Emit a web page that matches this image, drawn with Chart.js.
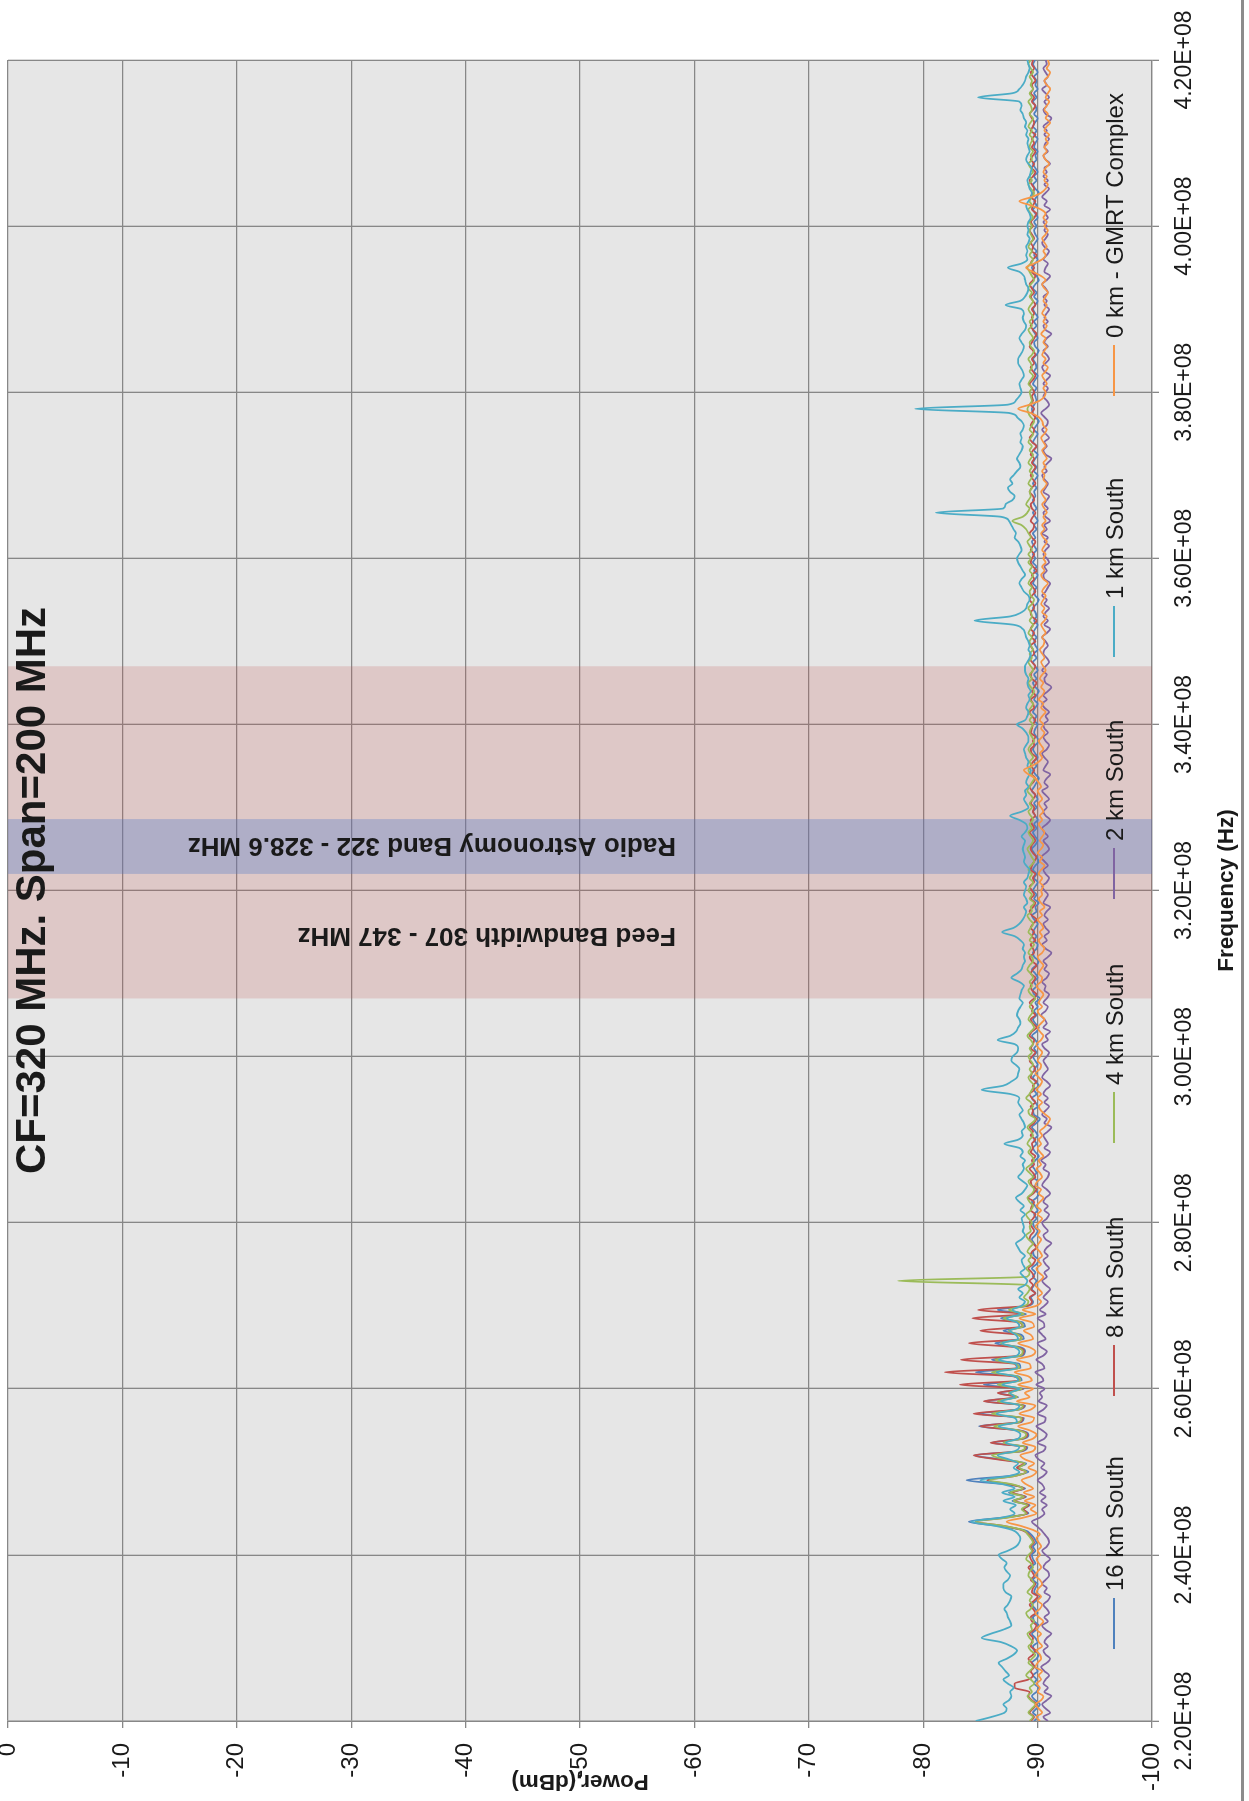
<!DOCTYPE html>
<html>
<head>
<meta charset="utf-8">
<title>CF=320 MHz. Span=200 MHz</title>
<script src="https://cdn.jsdelivr.net/npm/chart.js@4.4.1/dist/chart.umd.min.js"></script>
<style>
  html, body { margin: 0; padding: 0; background: #ffffff; width: 1249px; height: 1801px; overflow: hidden; }
  /* the chart is laid out landscape and turned a quarter turn counter-clockwise onto the portrait page */
  #wrap { position: absolute; left: 0; top: 0; width: 1801px; height: 1249px;
          transform-origin: 0 0; transform: translateY(1801px) rotate(-90deg); }
  canvas { display: block; }
</style>
</head>
<body>
<div id="wrap"><canvas id="spectrum" width="1801" height="1249"></canvas></div>
<script>
// Sweep settings of the analyser: 220 MHz to 420 MHz, 401 points (0.5 MHz per bin)
const SWEEP_START_MHZ = 220;
const SWEEP_STOP_MHZ = 420;
const SWEEP_POINTS = 401;

const seriesNames = ['16 km South', '8 km South', '4 km South', '2 km South', '1 km South', '0 km - GMRT Complex'];

// Power readings in dBm, one line per 10 MHz (20 bins), last value is 420 MHz
const km16South = [
  -89.7,-90.0,-89.6,-89.9,-90.2,-89.8,-89.5,-89.9,-90.1,-89.7,-89.9,-89.6,-90.0,-89.8,-89.5,-89.9,-90.1,-89.7,-89.6,-90.0,
  -89.8,-89.5,-89.9,-90.1,-89.7,-89.6,-90.0,-89.8,-89.5,-89.9,-90.2,-89.7,-89.8,-90.0,-89.6,-89.9,-89.7,-89.4,-89.8,-89.6,
  -89.5,-89.8,-89.6,-89.9,-89.7,-89.4,-88.8,-86.5,-84.0,-87.0,-89.2,-88.7,-89.3,-87.8,-89.0,-87.5,-88.9,-87.2,-83.8,-87.5,
  -89.2,-88.3,-89.0,-86.8,-84.5,-88.7,-89.1,-86.0,-88.8,-89.2,-88.4,-84.9,-88.6,-88.8,-84.8,-88.4,-88.9,-85.4,-88.3,-86.6,
  -88.8,-85.3,-88.6,-88.3,-84.6,-88.5,-88.4,-86.0,-88.7,-88.9,-88.5,-86.3,-88.8,-88.6,-87.0,-88.9,-88.7,-86.8,-89.0,-86.5,
  -89.2,-89.6,-89.4,-89.8,-89.5,-89.7,-89.9,-89.6,-89.8,-89.5,-89.9,-90.1,-89.7,-89.6,-89.9,-89.7,-89.5,-89.8,-90.0,-89.7,
  -89.6,-89.9,-89.7,-90.0,-89.8,-89.5,-89.9,-90.1,-89.7,-89.8,-90.0,-89.6,-89.9,-89.7,-89.5,-89.8,-90.1,-89.8,-89.6,-89.9,
  -89.7,-90.0,-89.8,-89.5,-89.9,-90.2,-89.7,-89.6,-90.0,-89.8,-89.5,-89.9,-89.7,-90.1,-89.8,-89.6,-89.9,-89.7,-90.0,-89.8,
  -89.6,-89.9,-89.7,-90.0,-89.8,-89.5,-89.9,-90.1,-89.8,-89.6,-89.9,-89.7,-90.0,-89.8,-90.2,-89.7,-89.6,-89.9,-89.7,-90.0,
  -89.8,-89.5,-89.9,-90.1,-89.7,-89.6,-89.9,-90.0,-89.7,-89.9,-89.6,-89.8,-90.0,-89.7,-89.5,-89.9,-89.8,-90.1,-89.7,-89.9,
  -89.6,-89.8,-90.0,-89.7,-89.9,-89.6,-89.8,-90.1,-89.9,-89.7,-89.5,-89.8,-90.0,-89.8,-89.6,-89.9,-89.7,-90.0,-89.8,-89.6,
  -89.9,-89.7,-90.0,-89.8,-89.5,-89.7,-89.9,-90.1,-89.8,-89.6,-89.9,-89.7,-90.0,-89.8,-89.6,-89.8,-90.1,-89.9,-89.7,-89.8,
  -90.0,-89.7,-89.9,-89.6,-89.8,-90.0,-89.7,-89.9,-90.1,-89.8,-89.6,-89.9,-89.7,-90.0,-89.8,-89.6,-89.9,-89.7,-90.0,-89.8,
  -89.7,-89.9,-89.6,-89.8,-90.0,-89.7,-89.9,-89.8,-89.6,-89.9,-90.1,-89.8,-89.7,-89.9,-89.6,-89.8,-90.0,-89.7,-89.9,-89.6,
  -89.8,-89.6,-89.9,-89.7,-89.5,-89.8,-89.6,-89.9,-89.7,-90.0,-89.8,-89.6,-89.9,-89.7,-89.6,-89.8,-89.7,-89.9,-89.6,-89.8,
  -90.0,-89.7,-89.9,-89.6,-89.8,-90.0,-89.7,-89.9,-89.6,-89.8,-90.0,-89.7,-89.9,-90.1,-89.8,-89.6,-89.5,-89.7,-89.9,-89.8,
  -89.7,-89.9,-89.6,-89.8,-90.0,-89.7,-89.9,-89.8,-89.6,-89.9,-90.1,-89.8,-89.7,-90.0,-89.8,-89.6,-89.9,-89.7,-90.0,-89.8,
  -89.6,-89.8,-90.0,-89.7,-89.9,-89.6,-89.8,-90.1,-89.9,-89.7,-89.5,-89.8,-90.0,-89.7,-89.9,-89.6,-89.8,-90.0,-89.8,-89.7,
  -89.9,-89.7,-90.0,-89.8,-89.6,-89.9,-89.7,-89.9,-90.1,-89.8,-89.6,-89.9,-89.7,-90.0,-89.8,-89.6,-89.9,-89.8,-90.0,-89.7,
  -89.8,-90.0,-89.7,-89.9,-89.6,-89.8,-90.0,-89.7,-89.9,-89.8,-89.6,-89.9,-89.7,-90.0,-89.8,-89.9,-89.7,-90.0,-89.8,-89.6,
  -89.8
];

const km8South = [
  -89.4,-89.7,-89.3,-89.6,-89.9,-89.5,-89.2,-89.3,-88.0,-88.0,-89.2,-89.6,-89.4,-89.7,-89.5,-89.2,-89.6,-89.8,-89.4,-89.5,
  -89.6,-89.3,-89.7,-89.9,-89.5,-89.4,-89.8,-89.6,-89.3,-89.7,-90.0,-89.5,-89.6,-89.8,-89.4,-89.7,-89.5,-89.2,-89.6,-89.4,
  -89.3,-89.6,-89.4,-89.7,-89.5,-89.2,-88.6,-87.0,-84.6,-87.3,-89.1,-88.8,-89.2,-88.0,-88.9,-87.8,-88.8,-87.6,-85.6,-88.0,
  -89.0,-88.2,-88.8,-86.5,-84.4,-88.6,-89.0,-85.9,-88.7,-89.1,-88.3,-85.0,-88.5,-88.7,-84.4,-88.2,-88.8,-85.3,-88.2,-86.5,
  -88.7,-83.2,-88.4,-87.9,-81.9,-88.2,-88.0,-83.3,-88.5,-88.8,-88.1,-84.0,-88.6,-88.3,-85.0,-88.7,-88.4,-84.3,-88.8,-84.8,
  -89.1,-89.5,-89.3,-89.8,-89.4,-89.6,-89.3,-89.7,-89.5,-89.2,-89.6,-89.8,-89.4,-89.5,-89.9,-89.6,-89.3,-89.4,-89.7,-89.5,
  -89.3,-89.6,-89.8,-89.4,-89.5,-89.7,-89.2,-89.6,-89.9,-89.5,-89.4,-89.8,-89.6,-89.3,-89.7,-89.5,-89.8,-89.4,-89.6,-89.5,
  -89.8,-89.4,-89.6,-89.3,-89.7,-89.9,-89.5,-89.6,-89.4,-89.8,-89.5,-89.3,-89.7,-89.6,-89.9,-89.4,-89.5,-89.8,-89.6,-89.3,
  -89.5,-89.8,-89.4,-89.6,-89.7,-89.3,-89.5,-89.9,-89.6,-89.4,-89.8,-89.5,-89.6,-89.3,-89.7,-89.9,-89.5,-89.4,-89.6,-89.8,
  -89.4,-89.6,-89.9,-89.5,-89.3,-89.7,-89.6,-89.4,-89.8,-89.5,-89.7,-89.4,-89.6,-89.9,-89.5,-89.3,-89.6,-89.8,-89.4,-89.7,
  -89.5,-89.3,-89.7,-89.6,-89.8,-89.4,-89.5,-89.7,-89.9,-89.6,-89.4,-89.5,-89.8,-89.6,-89.3,-89.7,-89.5,-89.4,-89.8,-89.6,
  -89.7,-89.4,-89.6,-89.8,-89.5,-89.3,-89.6,-89.8,-89.5,-89.7,-89.4,-89.6,-89.9,-89.5,-89.4,-89.7,-89.6,-89.8,-89.4,-89.5,
  -89.6,-89.8,-89.5,-89.3,-89.7,-89.6,-89.4,-89.8,-89.5,-89.7,-89.9,-89.5,-89.4,-89.6,-89.8,-89.5,-89.3,-89.7,-89.6,-89.4,
  -89.8,-89.5,-89.7,-89.4,-89.6,-89.9,-89.5,-89.4,-89.7,-89.6,-89.3,-89.5,-89.8,-89.6,-89.4,-89.7,-89.5,-89.9,-89.6,-89.4,
  -89.5,-89.7,-89.4,-89.6,-89.8,-89.5,-89.3,-89.6,-89.7,-89.4,-89.6,-89.8,-89.5,-89.4,-89.7,-89.6,-89.3,-89.5,-89.8,-89.6,
  -89.4,-89.6,-89.8,-89.5,-89.7,-89.4,-89.6,-89.9,-89.5,-89.3,-89.6,-89.7,-89.4,-89.6,-89.8,-89.5,-89.7,-89.4,-89.6,-89.5,
  -89.7,-89.5,-89.3,-89.6,-89.8,-89.6,-89.4,-89.7,-89.5,-89.8,-89.6,-89.3,-89.5,-89.7,-89.9,-89.6,-89.4,-89.6,-89.5,-89.7,
  -89.5,-89.8,-89.6,-89.4,-89.7,-89.5,-89.3,-89.6,-89.8,-89.5,-89.7,-89.4,-89.6,-89.9,-89.5,-89.6,-89.4,-89.7,-89.5,-89.3,
  -89.6,-89.4,-89.7,-89.9,-89.5,-89.6,-89.8,-89.4,-89.6,-89.7,-89.5,-89.3,-89.6,-89.8,-89.5,-89.7,-89.4,-89.6,-89.8,-89.5,
  -89.7,-89.5,-89.8,-89.4,-89.6,-89.7,-89.5,-89.3,-89.6,-89.8,-89.5,-89.7,-89.4,-89.6,-89.5,-89.8,-89.6,-89.4,-89.7,-89.5,
  -89.6
];

const km4South = [
  -89.3,-89.6,-89.2,-89.5,-89.8,-89.4,-89.1,-89.5,-89.3,-89.7,-89.4,-89.0,-89.3,-89.6,-89.2,-89.5,-89.8,-89.4,-89.2,-89.6,
  -89.3,-89.1,-89.5,-89.4,-89.7,-89.2,-89.0,-89.4,-89.6,-89.3,-89.5,-89.1,-89.4,-89.7,-89.5,-89.2,-89.3,-89.6,-89.4,-89.0,
  -89.2,-89.5,-89.3,-89.6,-89.4,-89.1,-88.7,-87.0,-84.6,-87.4,-89.0,-88.6,-89.1,-87.9,-88.8,-87.6,-88.7,-87.8,-85.8,-88.0,
  -89.0,-88.4,-88.9,-87.2,-86.0,-88.5,-88.9,-87.0,-88.6,-89.0,-88.3,-86.2,-88.4,-88.6,-86.0,-88.3,-88.7,-86.5,-88.2,-87.5,
  -88.6,-86.5,-88.5,-88.2,-86.0,-88.4,-88.1,-86.3,-88.5,-88.7,-88.2,-86.8,-88.6,-88.3,-87.5,-88.7,-88.5,-87.0,-88.8,-87.5,
  -88.9,-89.2,-88.8,-89.1,-89.3,-89.0,-77.8,-89.1,-89.3,-89.0,-89.4,-89.2,-89.5,-89.1,-89.3,-89.6,-89.2,-89.0,-89.4,-89.3,
  -89.5,-89.2,-89.0,-89.4,-89.6,-89.3,-89.1,-89.5,-89.7,-89.4,-89.2,-89.6,-89.3,-89.0,-89.4,-89.7,-89.5,-89.2,-89.4,-89.1,
  -89.3,-89.6,-89.4,-89.1,-89.5,-89.8,-89.3,-89.2,-89.6,-89.4,-89.0,-89.3,-89.5,-89.7,-89.4,-89.2,-89.5,-89.3,-89.6,-89.4,
  -89.2,-89.5,-89.3,-89.6,-89.4,-89.1,-89.4,-89.7,-89.5,-89.2,-89.4,-89.6,-89.3,-89.5,-89.8,-89.4,-89.2,-89.5,-89.3,-89.6,
  -89.4,-89.1,-89.3,-89.6,-89.5,-89.2,-89.4,-89.7,-89.3,-89.5,-89.2,-89.4,-89.6,-89.3,-89.1,-89.5,-89.4,-89.7,-89.3,-89.5,
  -89.2,-89.4,-89.6,-89.3,-89.5,-89.2,-89.4,-89.7,-89.5,-89.3,-89.1,-89.4,-89.6,-89.4,-89.2,-89.5,-89.3,-89.6,-89.4,-89.2,
  -89.5,-89.3,-89.6,-89.4,-89.1,-89.3,-89.5,-89.7,-89.4,-89.2,-89.5,-89.3,-89.6,-89.4,-89.2,-89.4,-89.7,-89.5,-89.3,-89.4,
  -89.6,-89.3,-89.5,-89.2,-89.4,-89.6,-89.3,-89.5,-89.7,-89.4,-89.2,-89.5,-89.3,-89.6,-89.4,-89.2,-89.5,-89.3,-89.6,-89.4,
  -89.3,-89.5,-89.2,-89.4,-89.6,-89.3,-89.5,-89.4,-89.2,-89.5,-89.7,-89.4,-89.3,-89.5,-89.2,-89.4,-89.6,-89.3,-89.5,-89.2,
  -89.4,-89.2,-89.5,-89.3,-89.1,-89.4,-89.2,-89.0,-88.6,-87.8,-88.7,-89.1,-89.3,-89.0,-89.2,-89.4,-89.3,-89.5,-89.2,-89.4,
  -89.6,-89.3,-89.5,-89.2,-89.4,-89.6,-89.3,-89.5,-89.2,-89.4,-89.6,-89.3,-89.5,-89.7,-89.4,-89.2,-89.1,-89.3,-89.5,-89.4,
  -89.3,-89.5,-89.2,-89.4,-89.6,-89.3,-89.5,-89.4,-89.2,-89.5,-89.7,-89.4,-89.3,-89.6,-89.4,-89.2,-89.5,-89.3,-89.6,-89.4,
  -89.2,-89.4,-89.6,-89.3,-89.5,-89.2,-89.4,-89.7,-89.5,-89.3,-89.1,-89.4,-89.6,-89.3,-89.5,-89.2,-89.4,-89.6,-89.4,-89.3,
  -89.5,-89.3,-89.6,-89.4,-89.2,-89.5,-89.3,-89.5,-89.7,-89.4,-89.2,-89.5,-89.3,-89.6,-89.4,-89.2,-89.5,-89.4,-89.6,-89.3,
  -89.4,-89.6,-89.3,-89.5,-89.2,-89.4,-89.6,-89.3,-89.5,-89.4,-89.2,-89.5,-89.3,-89.6,-89.4,-89.5,-89.3,-89.6,-89.4,-89.2,
  -89.4
];

const km2South = [
  -90.9,-90.5,-91.1,-90.7,-90.4,-90.8,-91.2,-90.6,-90.9,-90.5,-90.7,-91.0,-90.6,-90.3,-90.8,-91.1,-90.7,-90.5,-90.9,-90.6,
  -90.8,-91.2,-90.7,-90.4,-90.9,-90.6,-91.0,-90.8,-90.5,-90.9,-91.1,-90.6,-90.8,-90.4,-90.7,-91.0,-90.9,-90.5,-90.7,-91.1,
  -90.7,-90.4,-90.8,-91.0,-90.9,-90.6,-90.3,-89.9,-89.5,-90.2,-90.6,-90.4,-90.8,-90.3,-90.7,-90.2,-90.6,-90.4,-90.0,-90.5,
  -90.8,-90.3,-90.6,-90.1,-89.8,-90.5,-90.7,-90.0,-90.6,-90.8,-90.4,-89.9,-90.6,-90.7,-90.0,-90.5,-90.8,-90.1,-90.4,-90.2,
  -90.6,-89.9,-90.5,-90.3,-89.8,-90.6,-90.4,-89.9,-90.5,-90.8,-90.3,-90.0,-90.7,-90.4,-90.1,-90.6,-90.5,-90.0,-90.7,-90.2,
  -90.6,-90.9,-90.5,-90.8,-91.1,-90.7,-90.4,-90.8,-90.6,-91.0,-90.7,-90.5,-90.9,-90.6,-90.8,-91.2,-90.7,-90.5,-90.9,-90.6,
  -90.4,-90.8,-91.0,-90.6,-90.9,-90.5,-90.7,-91.1,-90.8,-90.4,-90.6,-90.9,-91.0,-90.5,-90.7,-90.3,-90.8,-91.1,-90.6,-90.9,
  -90.7,-90.5,-90.9,-91.2,-90.6,-90.8,-90.4,-90.7,-91.0,-90.6,-90.9,-90.5,-90.7,-91.1,-90.8,-90.4,-90.6,-90.9,-90.7,-90.5,
  -90.8,-91.0,-90.6,-90.4,-90.9,-90.7,-91.1,-90.5,-90.8,-90.6,-90.3,-90.7,-90.9,-90.5,-90.8,-91.0,-90.6,-90.7,-90.4,-90.8,
  -91.0,-90.6,-90.8,-90.5,-90.9,-91.2,-90.7,-90.4,-90.8,-90.6,-91.0,-90.7,-90.5,-90.9,-90.6,-90.8,-91.1,-90.5,-90.7,-90.9,
  -90.6,-90.4,-90.8,-91.0,-90.7,-90.5,-90.9,-90.6,-90.3,-90.7,-91.0,-90.8,-90.5,-90.9,-90.6,-90.4,-90.8,-91.1,-90.7,-90.5,
  -90.8,-90.6,-91.0,-90.7,-90.4,-90.9,-90.6,-90.8,-91.1,-90.5,-90.7,-90.9,-90.6,-90.4,-90.8,-91.0,-90.7,-90.5,-90.9,-90.6,
  -90.5,-90.9,-90.7,-91.0,-90.6,-90.4,-90.8,-90.5,-90.9,-91.2,-90.7,-90.6,-90.8,-90.4,-90.7,-91.0,-90.8,-90.5,-90.6,-90.9,
  -90.7,-90.4,-90.8,-91.1,-90.6,-90.9,-90.5,-90.7,-91.0,-90.6,-90.8,-90.4,-90.7,-90.9,-91.1,-90.6,-90.5,-90.8,-90.6,-91.0,
  -90.8,-90.5,-90.7,-91.0,-90.6,-90.9,-90.4,-90.8,-90.6,-91.1,-90.7,-90.5,-90.9,-90.6,-90.8,-91.0,-90.5,-90.7,-90.9,-90.6,
  -90.4,-90.8,-90.6,-90.9,-91.2,-90.7,-90.5,-90.8,-90.6,-91.0,-90.7,-90.4,-90.8,-90.9,-90.6,-90.3,-90.7,-91.0,-90.8,-90.5,
  -90.7,-90.9,-90.5,-90.8,-91.1,-90.6,-90.4,-90.7,-91.0,-90.8,-90.5,-90.9,-90.6,-90.8,-91.2,-90.7,-90.5,-90.9,-90.6,-90.8,
  -91.0,-90.6,-90.8,-90.5,-90.9,-90.7,-90.4,-90.8,-91.1,-90.6,-90.7,-90.9,-90.5,-90.8,-91.0,-90.6,-90.4,-90.7,-90.9,-90.6,
  -90.8,-90.5,-90.9,-90.7,-91.1,-90.6,-90.8,-90.4,-90.7,-91.0,-90.6,-90.9,-90.5,-90.8,-90.6,-91.1,-90.7,-90.5,-90.9,-90.6,
  -90.7,-91.0,-90.6,-90.8,-90.5,-90.9,-91.2,-90.7,-90.5,-90.8,-90.6,-91.0,-90.7,-90.4,-90.8,-90.6,-90.9,-90.7,-90.5,-90.8,
  -90.7
];

const km1South = [
  -84.6,-86.0,-87.1,-87.3,-87.0,-87.5,-87.7,-87.6,-87.9,-87.4,-87.0,-87.5,-87.2,-86.9,-86.6,-87.3,-87.9,-88.2,-87.7,-86.8,
  -85.1,-85.9,-87.0,-87.7,-87.6,-87.4,-87.3,-87.1,-87.4,-87.6,-87.7,-87.2,-87.0,-87.0,-87.4,-87.6,-87.3,-87.1,-87.3,-86.9,
  -86.6,-87.4,-88.1,-88.4,-88.5,-88.3,-87.8,-86.3,-84.2,-86.9,-88.0,-87.6,-88.1,-87.0,-88.0,-86.9,-88.0,-87.0,-85.0,-87.5,
  -88.4,-87.9,-88.3,-87.5,-86.5,-88.0,-88.4,-87.2,-88.3,-88.5,-88.0,-86.6,-88.2,-88.0,-86.4,-88.1,-88.4,-86.8,-88.0,-87.6,
  -88.4,-86.9,-88.3,-88.0,-86.4,-88.2,-88.1,-86.6,-88.2,-88.4,-88.0,-86.9,-88.3,-88.1,-87.6,-88.4,-88.2,-87.3,-88.5,-87.8,
  -88.6,-88.9,-88.4,-88.7,-88.3,-88.9,-89.1,-88.8,-88.5,-88.9,-88.7,-88.6,-88.9,-88.5,-88.3,-88.1,-88.6,-88.9,-88.7,-88.8,
  -88.7,-88.6,-88.9,-88.5,-88.8,-88.4,-88.1,-88.6,-88.9,-89.1,-88.7,-88.3,-88.6,-88.8,-88.7,-88.9,-88.5,-88.7,-88.4,-87.1,
  -88.3,-88.7,-88.6,-88.9,-88.8,-88.6,-88.4,-88.7,-88.5,-88.3,-88.4,-87.6,-85.1,-87.0,-87.7,-88.2,-88.3,-88.4,-88.1,-87.7,
  -87.8,-88.2,-88.3,-88.0,-86.5,-87.6,-88.1,-88.3,-88.5,-88.4,-88.2,-88.3,-88.5,-88.7,-88.4,-88.5,-88.6,-88.8,-88.4,-87.7,
  -88.2,-88.6,-88.7,-88.9,-88.8,-88.9,-88.7,-88.8,-88.5,-88.0,-86.9,-87.9,-88.4,-88.7,-88.9,-89.0,-88.8,-89.1,-89.0,-88.8,
  -88.9,-89.0,-88.8,-89.1,-89.2,-89.3,-89.0,-88.8,-88.9,-88.8,-88.7,-88.8,-88.9,-88.6,-88.9,-89.1,-89.0,-88.4,-87.6,-88.6,
  -89.2,-89.0,-88.8,-89.0,-88.9,-89.2,-89.0,-89.1,-89.3,-89.4,-89.1,-89.2,-89.0,-88.9,-88.8,-89.0,-89.2,-89.2,-89.0,-88.7,
  -88.2,-88.9,-89.1,-89.2,-89.0,-89.1,-89.3,-89.2,-89.4,-89.2,-89.1,-89.2,-89.0,-88.9,-88.9,-89.1,-89.3,-89.4,-89.2,-89.3,
  -89.2,-89.0,-88.9,-88.7,-87.9,-84.5,-87.6,-88.6,-89.0,-89.1,-89.3,-89.2,-88.8,-88.6,-88.4,-88.6,-88.9,-88.7,-88.5,-88.3,
  -88.2,-88.4,-88.6,-88.5,-88.3,-88.0,-88.1,-87.9,-87.7,-87.5,-86.8,-81.1,-87.0,-87.2,-87.8,-88.0,-87.6,-87.4,-87.8,-87.6,
  -87.9,-88.2,-88.5,-88.4,-88.2,-88.4,-88.6,-88.7,-88.5,-88.6,-88.5,-88.7,-88.8,-88.6,-88.2,-87.5,-79.3,-87.4,-88.1,-88.4,
  -88.6,-88.5,-88.4,-88.6,-88.8,-88.7,-88.5,-88.3,-88.3,-88.5,-88.7,-88.8,-88.6,-88.4,-88.6,-88.9,-89.0,-88.8,-88.7,-88.8,
  -88.6,-87.2,-88.5,-88.9,-89.1,-89.2,-89.0,-88.9,-88.8,-88.4,-87.4,-88.6,-89.1,-89.0,-89.1,-89.0,-89.2,-89.3,-89.1,-89.2,
  -89.1,-89.2,-89.4,-89.3,-89.1,-89.0,-89.2,-89.4,-89.5,-89.3,-89.2,-89.1,-89.3,-89.4,-89.5,-89.2,-89.0,-89.1,-89.3,-89.2,
  -89.1,-89.2,-89.0,-89.1,-88.9,-89.0,-88.8,-88.7,-88.5,-88.6,-88.4,-84.8,-87.8,-88.4,-88.7,-88.9,-89.0,-89.2,-89.3,-89.2,
  -89.1
];

const km0GMRT = [
  -90.2,-89.9,-90.4,-90.1,-89.8,-90.3,-90.5,-90.0,-90.2,-89.9,-90.3,-90.1,-90.4,-89.8,-90.0,-90.3,-90.2,-89.9,-90.4,-90.1,
  -90.0,-90.3,-89.9,-90.2,-90.5,-90.1,-89.8,-90.2,-90.4,-90.0,-90.3,-89.9,-90.1,-90.4,-90.2,-89.8,-90.0,-90.3,-90.1,-89.9,
  -90.2,-90.0,-90.3,-90.1,-89.9,-90.2,-89.6,-88.5,-87.3,-88.8,-89.9,-89.4,-89.8,-88.9,-89.7,-88.8,-89.6,-89.0,-88.6,-89.5,
  -89.9,-89.2,-89.7,-88.9,-88.5,-89.6,-89.8,-88.7,-89.6,-89.9,-89.3,-88.3,-89.5,-89.7,-88.4,-89.4,-89.8,-88.2,-89.3,-88.9,
  -89.6,-88.3,-89.5,-89.2,-88.0,-89.4,-89.3,-88.2,-89.5,-89.8,-89.3,-88.3,-89.6,-89.4,-88.8,-89.7,-89.5,-88.4,-89.8,-88.7,
  -89.9,-90.3,-90.0,-90.4,-90.1,-89.8,-90.2,-90.5,-90.1,-89.9,-90.3,-90.0,-90.4,-90.2,-89.9,-90.1,-90.3,-90.0,-90.2,-89.8,
  -90.1,-90.4,-90.0,-90.3,-89.9,-90.2,-90.5,-90.1,-90.3,-89.8,-90.0,-90.4,-90.2,-89.9,-90.3,-90.1,-90.5,-90.2,-90.0,-90.3,
  -90.1,-90.4,-90.2,-90.6,-90.9,-91.1,-90.7,-90.3,-90.1,-90.4,-90.0,-90.3,-89.9,-90.2,-90.4,-90.1,-89.8,-90.2,-90.3,-90.0,
  -90.2,-90.4,-90.1,-89.9,-90.3,-90.5,-90.2,-90.0,-90.3,-90.6,-90.2,-90.0,-90.4,-90.1,-90.3,-90.5,-90.2,-89.9,-90.3,-90.4,
  -90.1,-90.3,-90.5,-90.2,-90.0,-90.4,-90.6,-90.3,-90.1,-90.4,-90.2,-90.5,-90.3,-90.0,-90.4,-90.2,-90.6,-90.3,-90.1,-90.4,
  -90.3,-90.5,-90.2,-90.4,-90.1,-90.3,-90.6,-90.2,-90.4,-90.0,-90.3,-90.5,-90.2,-90.4,-90.6,-90.3,-90.1,-90.4,-90.2,-90.5,
  -90.3,-90.1,-90.4,-90.2,-90.0,-90.3,-90.1,-89.8,-89.2,-88.8,-89.5,-90.1,-90.4,-90.2,-90.5,-90.3,-90.1,-90.4,-90.6,-90.3,
  -90.5,-90.2,-90.4,-90.7,-90.3,-90.5,-90.1,-90.4,-90.6,-90.3,-90.5,-90.2,-90.4,-90.7,-90.5,-90.3,-90.6,-90.4,-90.2,-90.5,
  -90.6,-90.4,-90.7,-90.5,-90.3,-90.6,-90.8,-90.4,-90.6,-90.3,-90.5,-90.7,-90.4,-90.6,-90.9,-90.5,-90.3,-90.6,-90.4,-90.7,
  -90.5,-90.7,-90.4,-90.6,-90.8,-90.5,-90.3,-90.6,-90.4,-90.7,-90.5,-90.8,-90.6,-90.4,-90.7,-90.5,-90.3,-90.6,-90.8,-90.5,
  -90.6,-90.4,-90.7,-90.5,-90.8,-90.6,-90.4,-90.7,-90.5,-90.3,-90.6,-90.8,-90.5,-90.4,-90.1,-89.4,-88.3,-89.3,-90.2,-90.6,
  -90.7,-90.5,-90.8,-90.6,-90.4,-90.7,-90.9,-90.5,-90.7,-90.4,-90.6,-90.8,-90.5,-90.7,-90.3,-90.6,-90.8,-90.5,-90.7,-90.4,
  -90.6,-90.8,-90.5,-90.7,-90.9,-90.6,-90.4,-90.7,-90.3,-89.6,-89.0,-89.7,-90.4,-90.7,-90.5,-90.8,-90.6,-90.4,-90.7,-90.9,
  -90.6,-90.8,-90.5,-90.7,-90.3,-89.4,-88.4,-89.5,-90.3,-90.7,-90.9,-90.6,-90.8,-90.5,-90.7,-91.0,-90.7,-90.5,-90.8,-90.6,
  -90.9,-90.7,-91.0,-90.6,-90.8,-91.1,-90.7,-90.9,-90.6,-90.8,-91.0,-90.7,-90.9,-91.1,-90.8,-90.6,-90.9,-91.1,-90.8,-91.0,
  -90.9
];

const seriesValues = [km16South, km8South, km4South, km2South, km1South, km0GMRT];

// Axis ticks
const freqTicksHz = [2.2e8, 2.4e8, 2.6e8, 2.8e8, 3.0e8, 3.2e8, 3.4e8, 3.6e8, 3.8e8, 4.0e8, 4.2e8];
const freqTickLabels = ['2.20E+08', '2.40E+08', '2.60E+08', '2.80E+08', '3.00E+08', '3.20E+08',
                        '3.40E+08', '3.60E+08', '3.80E+08', '4.00E+08', '4.20E+08'];
const powerTicks = [-100, -90, -80, -70, -60, -50, -40, -30, -20, -10, 0];
const powerTickLabels = ['-100', '-90', '-80', '-70', '-60', '-50', '-40', '-30', '-20', '-10', '0'];

// Marked bands (MHz)
const feedBandMHz = [307, 347];
const raBandMHz = [322, 328.6];
const feedBandText = 'Feed Bandwidth 307 - 347 MHz';
const raBandText = 'Radio Astronomy Band 322 - 328.6 MHz';
const chartTitle = 'CF=320 MHz. Span=200 MHz';
const xAxisTitle = 'Frequency (Hz)';
const yAxisTitle = 'Power,(dBm)';

// ---- styling ----
const seriesColors = ['#4F81BD', '#C0504D', '#9BBB59', '#8064A2', '#4BACC6', '#F79646'];
const FONT = "'Liberation Sans', Arial, sans-serif";
const TEXT = '#1a1a1a';
const GRID = '#878787';
const legendStartX = [152, 405, 658, 902, 1144, 1405];

const freqHz = Array.from({ length: SWEEP_POINTS },
  (_, i) => (SWEEP_START_MHZ + i * (SWEEP_STOP_MHZ - SWEEP_START_MHZ) / (SWEEP_POINTS - 1)) * 1e6);

const datasets = seriesNames.map((name, k) => ({
  label: name,
  data: freqHz.map((f, i) => ({ x: f, y: seriesValues[k][i] })),
  borderColor: seriesColors[k],
  backgroundColor: seriesColors[k],
  borderWidth: 1.8,
  pointRadius: 0,
  cubicInterpolationMode: 'monotone',
  fill: false,
  order: seriesNames.length - k   // later series are painted on top
}));

const decorations = {
  id: 'decorations',
  beforeDraw(chart) {
    const { ctx, chartArea: a } = chart;
    ctx.save();
    ctx.fillStyle = '#ffffff';
    ctx.fillRect(0, 0, chart.width, chart.height);
    ctx.fillStyle = '#e6e6e6';
    ctx.fillRect(a.left, a.top, a.right - a.left, a.bottom - a.top);
    ctx.restore();
  },
  beforeDatasetsDraw(chart) {
    const { ctx, chartArea: a, scales: { x } } = chart;
    const band = (range, color) => {
      const x0 = x.getPixelForValue(range[0] * 1e6);
      const x1 = x.getPixelForValue(range[1] * 1e6);
      ctx.fillStyle = color;
      ctx.fillRect(x0, a.top, x1 - x0, a.bottom - a.top);
    };
    ctx.save();
    band(feedBandMHz, 'rgba(192,80,77,0.2)');
    band(raBandMHz, 'rgba(80,120,200,0.33)');
    ctx.restore();
  },
  afterDatasetsDraw(chart) {
    const { ctx, chartArea: a, scales: { x } } = chart;
    ctx.save();
    ctx.fillStyle = TEXT;

    // band captions, running upwards
    const vertical = (text, px, py) => {
      ctx.save();
      ctx.translate(px, py);
      ctx.rotate(-Math.PI / 2);
      ctx.textAlign = 'left';
      ctx.textBaseline = 'alphabetic';
      ctx.fillText(text, 0, 0);
      ctx.restore();
    };
    ctx.font = `bold 26px ${FONT}`;
    const raMid = x.getPixelForValue((raBandMHz[0] + raBandMHz[1]) / 2 * 1e6);
    vertical(raBandText, raMid + 8, 676);
    const feedLowMid = x.getPixelForValue((feedBandMHz[0] + raBandMHz[0]) / 2 * 1e6);
    vertical(feedBandText, feedLowMid + 8, 676);

    // title, inside the plot along its top edge
    ctx.font = `bold 42px ${FONT}`;
    ctx.textAlign = 'center';
    ctx.textBaseline = 'alphabetic';
    ctx.fillText(chartTitle, (a.left + a.right) / 2, 45);

    // legend row near the bottom of the plot
    ctx.font = `24px ${FONT}`;
    ctx.textAlign = 'left';
    seriesNames.forEach((name, k) => {
      const sx = legendStartX[k];
      ctx.strokeStyle = seriesColors[k];
      ctx.lineWidth = 2;
      ctx.beginPath();
      ctx.moveTo(sx, 1114);
      ctx.lineTo(sx + 51, 1114);
      ctx.stroke();
      ctx.fillText(name, sx + 58, 1123);
    });
    ctx.restore();
  },
  afterDraw(chart) {
    const { ctx, chartArea: a } = chart;
    ctx.save();
    ctx.fillStyle = TEXT;
    ctx.font = `bold 22.5px ${FONT}`;
    ctx.textAlign = 'center';
    ctx.textBaseline = 'alphabetic';
    ctx.fillText(xAxisTitle, (a.left + a.right) / 2, 1233);

    ctx.save();
    ctx.translate(26, (a.top + a.bottom) / 2);
    ctx.rotate(-Math.PI / 2);
    ctx.fillText(yAxisTitle, 0, 0);
    ctx.restore();

    // outer frame line
    ctx.strokeStyle = '#8c8c8c';
    ctx.lineWidth = 3;
    ctx.beginPath();
    ctx.moveTo(0, 1242.5);
    ctx.lineTo(chart.width, 1242.5);
    ctx.stroke();
    ctx.restore();
  }
};

new Chart(document.getElementById('spectrum'), {
  type: 'line',
  data: { datasets },
  options: {
    responsive: false,
    animation: false,
    devicePixelRatio: 1,
    events: [],
    layout: { padding: { top: 8, right: 60, left: 0, bottom: 0 } },
    plugins: { legend: { display: false }, title: { display: false }, tooltip: { enabled: false } },
    scales: {
      x: {
        type: 'linear',
        min: 2.2e8,
        max: 4.2e8,
        afterBuildTicks: (s) => { s.ticks = freqTicksHz.map(v => ({ value: v })); },
        afterFit: (s) => { s.height = 97; s.paddingLeft = 0; s.paddingRight = 0; },
        ticks: {
          autoSkip: false, maxRotation: 0, minRotation: 0, padding: 12,
          color: TEXT, font: { family: FONT, size: 23 },
          callback: (v, i) => freqTickLabels[i]
        },
        grid: { color: GRID, lineWidth: 1.3, tickLength: 7, drawTicks: true },
        border: { color: GRID, width: 1.3 }
      },
      y: {
        min: -100,
        max: 0,
        afterBuildTicks: (s) => { s.ticks = powerTicks.map(v => ({ value: v })); },
        afterFit: (s) => { s.width = 80; s.paddingTop = 0; s.paddingBottom = 0; },
        ticks: {
          autoSkip: false, padding: 15,
          color: TEXT, font: { family: FONT, size: 24 },
          callback: (v, i) => powerTickLabels[i]
        },
        grid: { color: GRID, lineWidth: 1.3, tickLength: 7, drawTicks: true },
        border: { color: GRID, width: 1.3 }
      }
    }
  },
  plugins: [decorations]
});
</script>
</body>
</html>
